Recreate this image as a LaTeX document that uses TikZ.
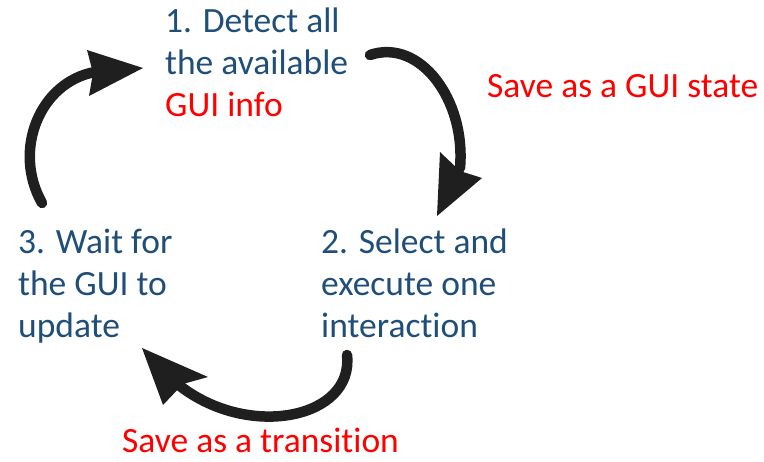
\documentclass[tikz,border=0pt]{standalone}
\usepackage{fontspec}
\setmainfont{Carlito}[RawFeature=-liga]
\definecolor{stepblue}{HTML}{1F4E79}
\definecolor{notered}{HTML}{FF0000}
\tikzset{
  x=1pt, y=-1pt,
  steptext/.style={anchor=north west, inner sep=0pt, align=left, text=stepblue, font=\fontsize{35.5}{42}\selectfont},
  notetext/.style={anchor=north west, inner sep=0pt, text=notered, font=\fontsize{35.5}{42}\selectfont},
  cyclearrow/.style={line width=10.5pt, line cap=round, draw=black!88},
  arrowhead/.style={fill=black!88, draw=none}
}
\begin{document}
\begin{tikzpicture}
\useasboundingbox (0,0) rectangle (764,462);
\node[steptext] (s1) at (165,8) {1. Detect all\\the available\\\textcolor{notered}{GUI info}};
\node[steptext] (s2) at (321,229) {2. Select and\\execute one\\interaction};
\node[steptext] (s3) at (18,229) {3. Wait for\\the GUI to\\update};
\node[notetext] (n1) at (487,74) {Save as a GUI state};
\node[notetext] (n2) at (122,428) {Save as a transition};
% arrow 3 -> 1
\coordinate (a1s) at (42,203);
\coordinate (a1e) at (95,72);
\draw[cyclearrow] (a1s) .. controls (12,150) and (40,82) .. (a1e);
\fill[arrowhead] (87,50) -- (143,68) -- (89,96) -- (93,73) -- cycle;
% arrow 1 -> 2
\coordinate (a2s) at (370,55);
\coordinate (a2e) at (460,168);
\draw[cyclearrow] (a2s) .. controls (420,38) and (466,100) .. (a2e);
\fill[arrowhead] (440,152) -- (460,171) -- (482,178) -- (437,216) -- cycle;
% arrow 2 -> 3
\coordinate (a3s) at (347,355);
\coordinate (a3e) at (180,386);
\draw[cyclearrow] (a3s) .. controls (354,418) and (250,440) .. (a3e);
\fill[arrowhead] (142,348) -- (208,377) -- (183,384) -- (163,405) -- cycle;
\end{tikzpicture}
\end{document}
